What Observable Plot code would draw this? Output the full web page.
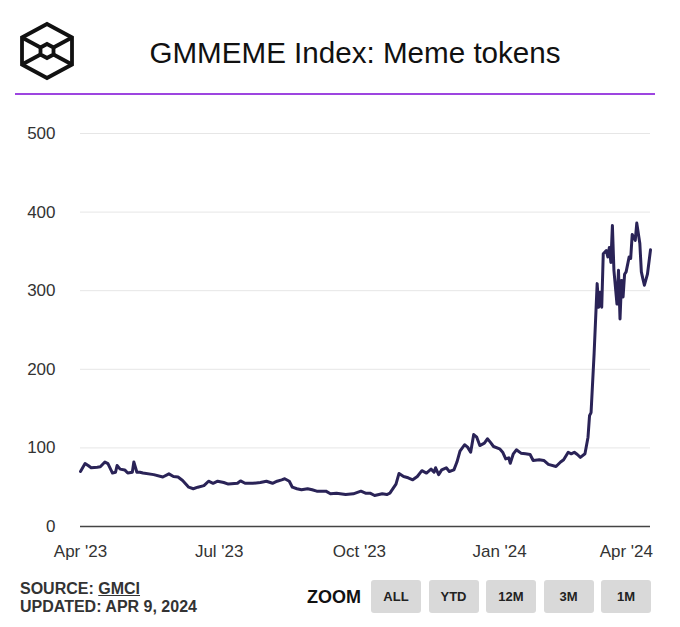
<!DOCTYPE html>
<html><head><meta charset="utf-8">
<script src="https://cdn.jsdelivr.net/npm/d3@7"></script>
<script src="https://cdn.jsdelivr.net/npm/@observablehq/plot@0.6"></script>
<style>
body{margin:0;background:#fff;font-family:"Liberation Sans",Arial,sans-serif;}
#wrap{position:relative;width:680px;height:627px;overflow:hidden;background:#fff;}
#logo{position:absolute;left:0;top:0;}
#title{position:absolute;left:355px;top:38px;transform:translateX(-50%);white-space:nowrap;font-size:29.6px;line-height:29px;color:#111;}
#rule{position:absolute;left:15px;top:93px;width:640px;height:2px;background:#9d45e0;}
#chart{position:absolute;left:0;top:100px;}
#src{position:absolute;left:20px;top:580px;font-weight:bold;font-size:16px;line-height:18px;color:#333;}
#zoom{position:absolute;left:307px;top:588px;font-weight:bold;font-size:18px;line-height:18px;color:#111;}
.btn{position:absolute;top:580px;width:50px;height:33px;line-height:33px;background:#d9d9d9;border-radius:3px;text-align:center;font-weight:bold;font-size:13px;color:#222;}
</style></head><body>
<div id="wrap">
<svg id="logo" width="90" height="90" viewBox="0 0 90 90">
<g fill="none" stroke="#111" stroke-width="3.8" stroke-linejoin="miter">
<polygon points="47,24 72,37.5 72,64.5 47,78 22,64.5 22,37.5"/>
<polygon points="47,44 53.5,47.5 53.5,54.5 47,58 40.5,54.5 40.5,47.5"/>
<line x1="22" y1="37.5" x2="40.5" y2="47.5"/>
<line x1="72" y1="37.5" x2="53.5" y2="47.5"/>
<line x1="22" y1="64.5" x2="40.5" y2="54.5"/>
<line x1="72" y1="64.5" x2="53.5" y2="54.5"/>
</g>
</svg>
<div id="title">GMMEME Index: Meme tokens</div>
<div id="rule"></div>
<div id="chart"></div>
<div id="src">SOURCE: <u>GMCI</u><br>UPDATED: APR 9, 2024</div>
<div id="zoom">ZOOM</div>
</div>
<script>
const dates = ["2023-04-01","2023-04-04","2023-04-06","2023-04-08","2023-04-12","2023-04-14","2023-04-17","2023-04-19","2023-04-22","2023-04-24","2023-04-25","2023-04-27","2023-04-30","2023-05-02","2023-05-05","2023-05-06","2023-05-08","2023-05-10","2023-05-12","2023-05-19","2023-05-25","2023-05-29","2023-06-01","2023-06-04","2023-06-07","2023-06-11","2023-06-14","2023-06-17","2023-06-21","2023-06-24","2023-06-27","2023-06-30","2023-07-04","2023-07-07","2023-07-13","2023-07-15","2023-07-18","2023-07-23","2023-07-28","2023-08-01","2023-08-05","2023-08-08","2023-08-11","2023-08-13","2023-08-16","2023-08-18","2023-08-21","2023-08-24","2023-08-28","2023-08-31","2023-09-03","2023-09-09","2023-09-12","2023-09-16","2023-09-22","2023-09-27","2023-10-02","2023-10-05","2023-10-08","2023-10-11","2023-10-16","2023-10-19","2023-10-21","2023-10-25","2023-10-27","2023-10-30","2023-11-02","2023-11-05","2023-11-08","2023-11-11","2023-11-14","2023-11-17","2023-11-19","2023-11-20","2023-11-22","2023-11-24","2023-11-27","2023-11-29","2023-12-02","2023-12-04","2023-12-06","2023-12-09","2023-12-11","2023-12-13","2023-12-15","2023-12-17","2023-12-19","2023-12-22","2023-12-24","2023-12-26","2023-12-28","2024-01-01","2024-01-03","2024-01-05","2024-01-07","2024-01-08","2024-01-10","2024-01-12","2024-01-15","2024-01-18","2024-01-21","2024-01-23","2024-01-27","2024-01-30","2024-02-02","2024-02-07","2024-02-10","2024-02-12","2024-02-15","2024-02-17","2024-02-19","2024-02-21","2024-02-23","2024-02-26","2024-02-28","2024-02-29","2024-03-01","2024-03-03","2024-03-05","2024-03-06","2024-03-07","2024-03-08","2024-03-09","2024-03-11","2024-03-12","2024-03-13","2024-03-14","2024-03-15","2024-03-16","2024-03-18","2024-03-19","2024-03-20","2024-03-21","2024-03-22","2024-03-23","2024-03-24","2024-03-26","2024-03-27","2024-03-28","2024-03-30","2024-03-31","2024-04-02","2024-04-03","2024-04-04","2024-04-05","2024-04-07","2024-04-09"];
const values = [70,80,77.6,74.7,75.5,76,82,80,68,69,77.6,73,72,68,69,82,69,69,68,66,63,67,63.6,63,58.5,50,48,50,52,57.6,55,57.6,56,54,55,58,55,55,56,57.6,55,57.6,59.4,60.7,57.6,50,48,46.7,48,46.7,45,45,41.6,42.4,40.7,41.6,45,42.4,42.4,39.4,41.6,40.7,42.4,54,67.5,63.6,62,59.4,63.6,71,68,73,69,74.7,66,72,74.7,70,72,82,95.8,104,101,94.5,117,113.6,103,106,111.6,107,101.8,98.8,94.5,86,87.4,80.5,92.5,97.6,93.3,92.5,91.6,84,84.9,84,79,76.3,82,84.9,94.5,92.5,94.5,91.6,88,92.5,113.6,141,145,220,309,279,298,279,347,351,343,355,336,383,326,283,326,264,313,292,321,324,343,341,371.5,364,386,360,324,315,307,321,352];
const tickDates = ["2023-04-01","2023-07-01","2023-10-01","2024-01-01","2024-04-01"];
const tickLabels = ["Apr '23","Jul '23","Oct '23","Jan '24","Apr '24"];
const yTicks = [0,100,200,300,400,500];
const buttons = ["ALL","YTD","12M","3M","1M"];

const parse = d3.utcParse("%Y-%m-%d");
const data = dates.map((d,i)=>({date: parse(d), value: values[i]}));
const ticks = tickDates.map(parse);
const fmt = d => tickLabels[ticks.findIndex(t => +t === +d)];

const chart = Plot.plot({
  width: 680, height: 470,
  marginTop: 33, marginBottom: 44, marginLeft: 80, marginRight: 30,
  style: {fontFamily: "Liberation Sans, Arial, sans-serif", fontSize: "17px", color: "#333", background: "#fff", overflow: "visible"},
  x: {type: "utc", domain: [parse("2023-04-01"), parse("2024-04-09")]},
  y: {domain: [0, 500]},
  marks: [
    Plot.gridY(yTicks.filter(v => v > 0), {stroke: "#e6e6e6", strokeOpacity: 1, strokeWidth: 1}),
    Plot.axisY(yTicks, {tickSize: 0, tickPadding: 25, label: null, fill: "#333"}),
    Plot.axisX(ticks.slice(0, 4), {tickSize: 0, tickPadding: 18, tickFormat: fmt, label: null, fill: "#333"}),
    Plot.axisX(ticks.slice(4), {tickSize: 0, tickPadding: 18, tickFormat: fmt, label: null, fill: "#333", dx: -12}),
    Plot.ruleY([0], {stroke: "#444", strokeWidth: 1.5}),
    Plot.line(data, {x: "date", y: "value", stroke: "#2a2357", strokeWidth: 3, strokeLinejoin: "round"})
  ]
});
document.getElementById("chart").appendChild(chart);

const wrap = document.getElementById("wrap");
buttons.forEach((b, i) => {
  const el = document.createElement("div");
  el.className = "btn";
  el.style.left = (371 + i * 57.5) + "px";
  el.textContent = b;
  wrap.appendChild(el);
});
</script>
</body></html>
